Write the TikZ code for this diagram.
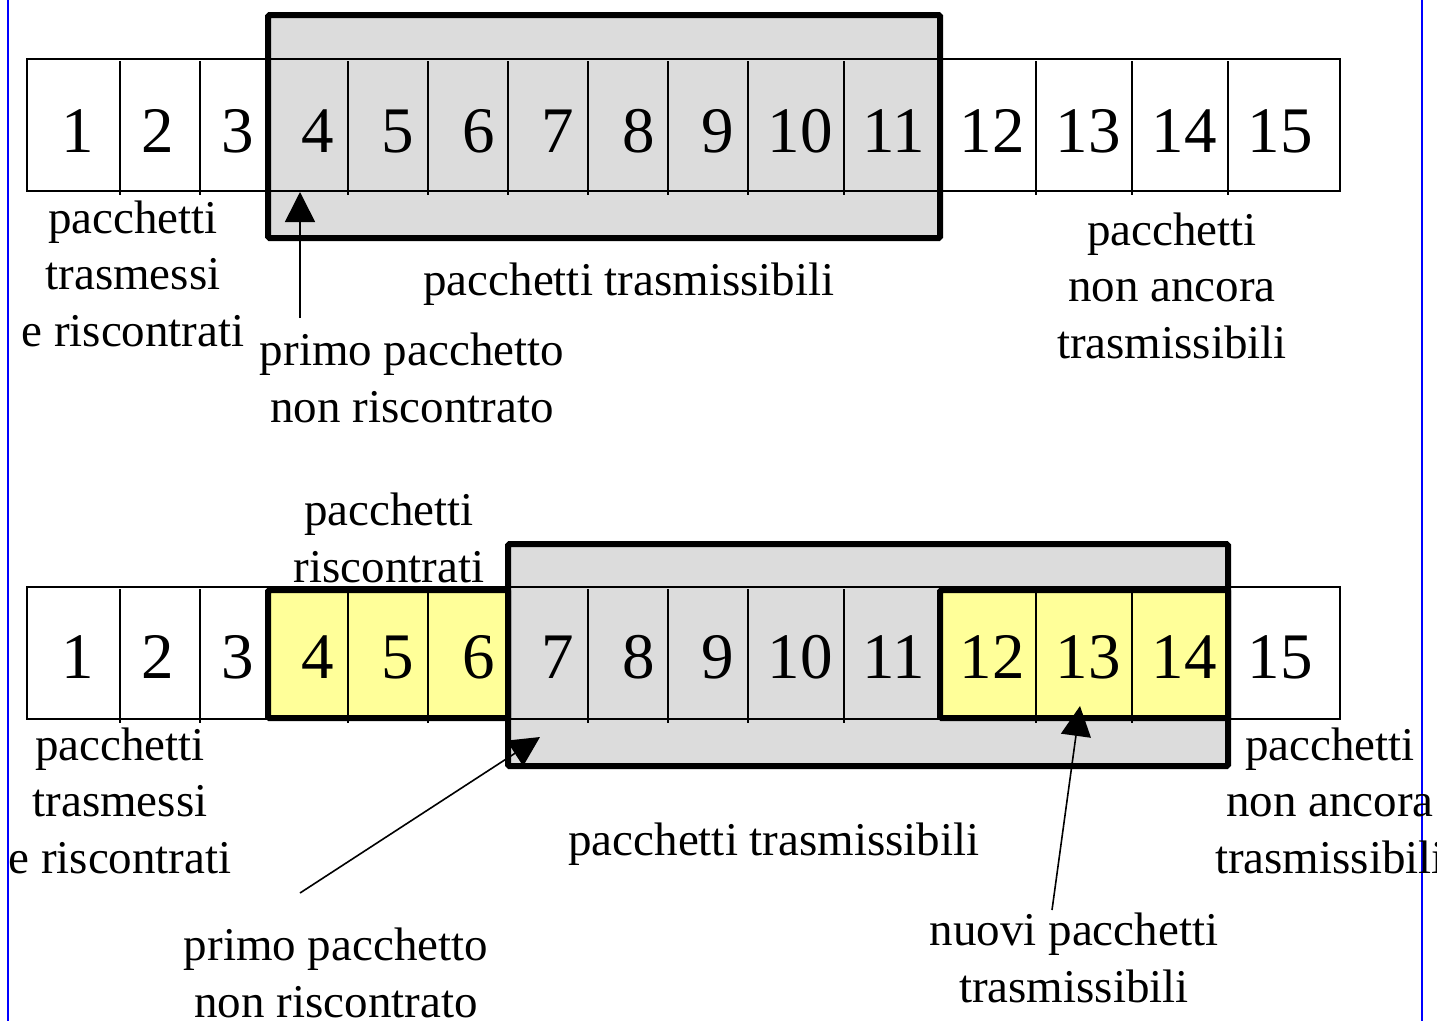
\documentclass[tikz,border=0pt]{standalone}
\usepackage{fontspec}
\setmainfont{Liberation Serif}
\usetikzlibrary{arrows.meta}
\definecolor{winfill}{RGB}{220,220,220}
\definecolor{ackfill}{RGB}{255,255,153}
\definecolor{frameblue}{RGB}{0,0,255}
\tikzset{
  cellline/.style={line width=1.6pt},
  winframe/.style={line width=6pt, rounded corners=1.5pt},
  num/.style={anchor=base, inner sep=0pt, font=\fontsize{65}{78}\selectfont},
  % multi-line labels: the base anchor sits on the last line
  lbl/.style={anchor=base, inner sep=0pt, align=center, font=\fontsize{47}{56.5}\selectfont},
  ptr/.style={line width=1.6pt, -{Triangle[length=30pt,width=30pt]}},
  margin/.style={frameblue, line width=2pt},
}
\begin{document}
\begin{tikzpicture}[x=1pt,y=-1pt]
\useasboundingbox (0,0) rectangle (1455,1021);
\fill[white] (0,0) rectangle (1455,1021);
\clip (0,0) rectangle (1436,1021);

% page margins
\draw[margin] (8,0) -- (8,1021);
\draw[margin] (1422,0) -- (1422,1021);

% ---------------- first sliding window ----------------
\fill[winfill] (268,15) rectangle (940,238);
\draw[cellline] (27,59) rectangle (1340,191);
\foreach \x in {120,200,348,428,508,588,668,748,844,940,1036,1132,1228}
  \draw[cellline] (\x,61) -- (\x,195);
\draw[winframe] (268,15) rectangle (940,238);

\foreach \n/\x in {1/78,2/158,3/238,4/318,5/398,6/479,7/558,8/639,
                   9/718,10/800,11/894,12/992,13/1088,14/1184,15/1280}
  \node[num] (t\n) at (\x,152) {\n};

\node[lbl] (tack)   at (133,346) {pacchetti\\trasmessi\\e riscontrati};
\node[lbl] (twin)   at (629,295) {pacchetti trasmissibili};
\node[lbl] (tfirst) at (412,422) {primo pacchetto\\non riscontrato};
\node[lbl] (tnot)   at (1172,358) {pacchetti\\non ancora\\trasmissibili};

\coordinate (tfrom) at (300,318);
\coordinate (tto)   at (300,192);
\draw[ptr] (tfrom) -- (tto);

% ---------------- second sliding window ----------------
\fill[winfill] (508,544) rectangle (1228,766);
\fill[ackfill] (268,590) rectangle (508,718);
\fill[ackfill] (940,590) rectangle (1228,718);
\draw[cellline] (27,587) rectangle (1340,719);
\foreach \x in {120,200,348,428,588,668,748,844,1036,1132}
  \draw[cellline] (\x,589) -- (\x,723);
\draw[winframe] (508,544) rectangle (1228,766);
\draw[winframe] (268,590) rectangle (508,718);
\draw[winframe] (940,590) rectangle (1228,718);

\foreach \n/\x in {1/78,2/158,3/238,4/318,5/398,6/479,7/558,8/639,
                   9/718,10/800,11/894,12/992,13/1088,14/1184,15/1280}
  \node[num] (b\n) at (\x,678) {\n};

\node[lbl] (backed) at (389,582) {pacchetti\\riscontrati};
\node[lbl] (back)   at (120,873) {pacchetti\\trasmessi\\e riscontrati};
\node[lbl] (bwin)   at (774,855) {pacchetti trasmissibili};
\node[lbl] (bfirst) at (336,1017) {primo pacchetto\\non riscontrato};
\node[lbl] (bnot)   at (1330,873) {pacchetti\\non ancora\\trasmissibili};
\node[lbl] (bnew)   at (1074,1002) {nuovi pacchetti\\trasmissibili};

\coordinate (bfrom1) at (300,893);
\coordinate (bto1)   at (540,737);
\coordinate (bfrom2) at (1052,910);
\coordinate (bto2)   at (1080,706);
\draw[ptr] (bfrom1) -- (bto1);
\draw[ptr] (bfrom2) -- (bto2);
\end{tikzpicture}
\end{document}
